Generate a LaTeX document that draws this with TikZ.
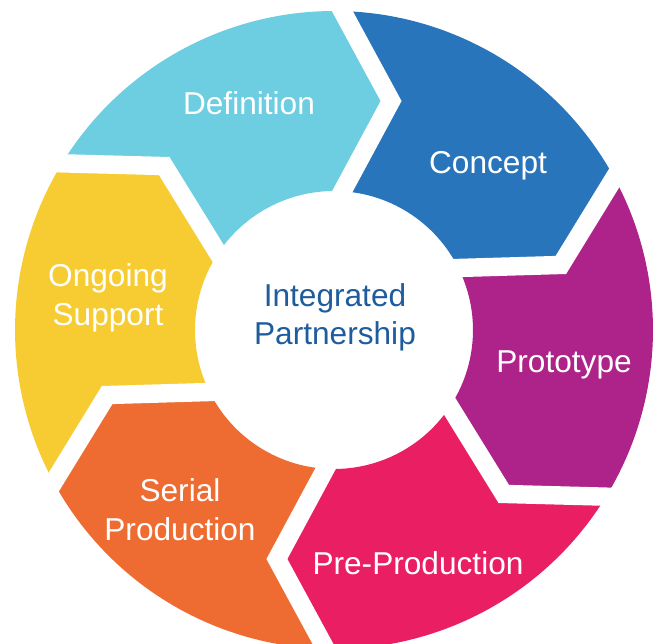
\documentclass[tikz,border=0pt]{standalone}
\usepackage{fontspec}
\setmainfont{Liberation Sans}
\usepackage{tikz}
\definecolor{defblue}{RGB}{109, 205, 225}
\definecolor{conceptblue}{RGB}{41, 117, 187}
\definecolor{protopurple}{RGB}{173, 35, 137}
\definecolor{preprodpink}{RGB}{233, 30, 99}
\definecolor{serialorange}{RGB}{238, 108, 50}
\definecolor{supportyellow}{RGB}{247, 204, 51}
\definecolor{hubblue}{RGB}{30, 92, 158}
\usetikzlibrary{calc}

\begin{document}
\begin{tikzpicture}[
    ringgap/.style={draw=white, line width=0.46cm, line join=miter},
    steptext/.style={text=white, font=\fontsize{22.5}{27.5}\selectfont, align=center},
    hubtext/.style={text=hubblue, font=\fontsize{22.5}{27.5}\selectfont, align=center}
]
    \useasboundingbox (-8.35, -7.85) rectangle (8.125, 8.25);

    % Boundaries: outer point, kink, inner point
    \coordinate (o0) at (88.5:7.975);   \coordinate (k0) at (76:5.9);   \coordinate (i0) at (86.5:3.475);
    \coordinate (o1) at (28.5:7.975);   \coordinate (k1) at (16:5.9);   \coordinate (i1) at (26.5:3.475);
    \coordinate (o2) at (-31.5:7.975);  \coordinate (k2) at (-44:5.9);  \coordinate (i2) at (-33.5:3.475);
    \coordinate (o3) at (-91.5:7.975);  \coordinate (k3) at (-104:5.9); \coordinate (i3) at (-93.5:3.475);
    \coordinate (o4) at (-151.5:7.975); \coordinate (k4) at (-164:5.9); \coordinate (i4) at (-153.5:3.475);
    \coordinate (o5) at (148.5:7.975);  \coordinate (k5) at (136:5.9);  \coordinate (i5) at (146.5:3.475);

    % Segments
    \fill[defblue] (o5) arc[start angle=148.5, end angle=88.5, radius=7.975] -- (k0) -- (i0)
        arc[start angle=86.5, end angle=146.5, radius=3.475] -- (k5) -- cycle;
    \fill[conceptblue] (o0) arc[start angle=88.5, end angle=28.5, radius=7.975] -- (k1) -- (i1)
        arc[start angle=26.5, end angle=86.5, radius=3.475] -- (k0) -- cycle;
    \fill[protopurple] (o1) arc[start angle=28.5, end angle=-31.5, radius=7.975] -- (k2) -- (i2)
        arc[start angle=-33.5, end angle=26.5, radius=3.475] -- (k1) -- cycle;
    \fill[preprodpink] (o2) arc[start angle=-31.5, end angle=-91.5, radius=7.975] -- (k3) -- (i3)
        arc[start angle=-93.5, end angle=-33.5, radius=3.475] -- (k2) -- cycle;
    \fill[serialorange] (o3) arc[start angle=-91.5, end angle=-151.5, radius=7.975] -- (k4) -- (i4)
        arc[start angle=-153.5, end angle=-93.5, radius=3.475] -- (k3) -- cycle;
    \fill[supportyellow] (o4) arc[start angle=-151.5, end angle=-211.5, radius=7.975] -- (k5) -- (i5)
        arc[start angle=-213.5, end angle=-153.5, radius=3.475] -- (k4) -- cycle;

    % Gaps
    \draw[ringgap] ($(k0)!1.3!(o0)$) -- (k0) -- ($(k0)!1.3!(i0)$);
    \draw[ringgap] ($(k1)!1.3!(o1)$) -- (k1) -- ($(k1)!1.3!(i1)$);
    \draw[ringgap] ($(k2)!1.3!(o2)$) -- (k2) -- ($(k2)!1.3!(i2)$);
    \draw[ringgap] ($(k3)!1.3!(o3)$) -- (k3) -- ($(k3)!1.3!(i3)$);
    \draw[ringgap] ($(k4)!1.3!(o4)$) -- (k4) -- ($(k4)!1.3!(i4)$);
    \draw[ringgap] ($(k5)!1.3!(o5)$) -- (k5) -- ($(k5)!1.3!(i5)$);

    % Labels
    \node[steptext, anchor=base] (definition) at (-2.125, 5.375) {Definition};
    \node[steptext, anchor=base] (concept) at (3.85, 3.925) {Concept};
    \node[steptext, anchor=base] (prototype) at (5.75, -1.05) {Prototype};
    \node[steptext, anchor=base] (preprod) at (2.1, -6.1) {Pre-Production};
    \node[steptext] (serial) at (-3.85, -4.5) {Serial\\Production};
    \node[steptext] (support) at (-5.65, 0.8) {Ongoing\\Support};
    \node[hubtext] (hub) at (0.025, 0.32) {Integrated\\Partnership};
\end{tikzpicture}
\end{document}
